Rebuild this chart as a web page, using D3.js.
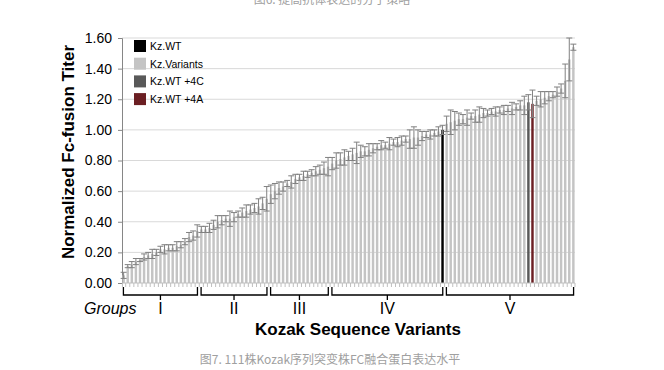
<!DOCTYPE html>
<html>
<head>
<meta charset="utf-8">
<script src="https://cdn.jsdelivr.net/npm/d3@7"></script>
<style>
  body { margin: 0; background: #fff; }
  svg { display: block; font-family: "Liberation Sans", Arial, sans-serif; }
</style>
</head>
<body>
<div id="chart"></div>
<script>
// normalized titer for each of the 111 Kozak variants, sorted
const titers = [
  0.05, 0.11, 0.12, 0.14, 0.15, 0.17, 0.18, 0.19, 0.20, 0.22,
  0.22, 0.23, 0.23, 0.24, 0.25, 0.27, 0.30, 0.31, 0.34, 0.35,
  0.35, 0.36, 0.38, 0.40, 0.41, 0.42, 0.42, 0.43, 0.45, 0.46,
  0.47, 0.48, 0.49, 0.50, 0.52, 0.55, 0.58, 0.60, 0.62, 0.63,
  0.65, 0.66, 0.68, 0.69, 0.70, 0.71, 0.72, 0.73, 0.74, 0.75,
  0.76, 0.78, 0.80, 0.81, 0.82, 0.83, 0.84, 0.85, 0.86, 0.86,
  0.87, 0.88, 0.89, 0.90, 0.90, 0.91, 0.92, 0.92, 0.93, 0.94,
  0.94, 0.95, 0.95, 0.96, 0.97, 0.97, 0.98, 0.99, 1.00, 1.04,
  1.05, 1.06, 1.07, 1.07, 1.08, 1.09, 1.09, 1.10, 1.11, 1.11,
  1.12, 1.12, 1.13, 1.13, 1.14, 1.14, 1.15, 1.16, 1.16, 1.18,
  1.17, 1.19, 1.20, 1.21, 1.22, 1.23, 1.25, 1.27, 1.32, 1.46,
  1.54]
const errors = [
  0.02, 0.01, 0.02, 0.02, 0.01, 0.02, 0.02, 0.03, 0.02, 0.02,
  0.03, 0.02, 0.02, 0.03, 0.02, 0.02, 0.03, 0.03, 0.04, 0.02,
  0.02, 0.03, 0.03, 0.04, 0.03, 0.02, 0.05, 0.03, 0.02, 0.03,
  0.04, 0.03, 0.03, 0.05, 0.04, 0.08, 0.06, 0.05, 0.04, 0.03,
  0.02, 0.04, 0.03, 0.02, 0.03, 0.02, 0.02, 0.03, 0.03, 0.04,
  0.06, 0.04, 0.05, 0.04, 0.05, 0.03, 0.04, 0.07, 0.04, 0.03,
  0.04, 0.03, 0.02, 0.03, 0.02, 0.04, 0.02, 0.03, 0.03, 0.02,
  0.06, 0.07, 0.05, 0.03, 0.02, 0.03, 0.02, 0.03, 0.03, 0.05,
  0.08, 0.06, 0.04, 0.03, 0.05, 0.02, 0.04, 0.05, 0.03, 0.02,
  0.02, 0.03, 0.02, 0.03, 0.02, 0.04, 0.02, 0.03, 0.06, 0.05,
  0.09, 0.03, 0.05, 0.04, 0.03, 0.02, 0.03, 0.03, 0.11, 0.14,
  0.02]
// index of the reference constructs among the variants
const specials = [
  {index: 78, name: "Kz.WT"},
  {index: 99, name: "Kz.WT +4C"},
  {index: 100, name: "Kz.WT +4A"}]
const seriesNames = ["Kz.WT", "Kz.Variants", "Kz.WT +4C", "Kz.WT +4A"]
const seriesColors = ["#000000", "#c4c4c4", "#595959", "#6b1f23"]
const groupNames = ["I", "II", "III", "IV", "V"]
const groupStarts = [0, 19, 36, 51, 79]
const groupEnds = [18, 35, 50, 78, 110]
const yTicks = [0, 0.2, 0.4, 0.6, 0.8, 1.0, 1.2, 1.4, 1.6]

const W = 664, H = 370
const margin = {top: 38, right: 89, bottom: 87, left: 122}
const width = W - margin.left - margin.right,
  height = H - margin.top - margin.bottom

const svg = d3.select("#chart").append("svg")
  .attr("width", W)
  .attr("height", H)

const g = svg.append("g")
  .attr("transform", `translate(${margin.left},${margin.top})`)

const x = d3.scaleBand()
  .domain(d3.range(titers.length))
  .range([0, width])
  .paddingInner(0.4)
  .paddingOuter(0.1)

const y = d3.scaleLinear()
  .domain([0, 1.6])
  .range([height, 0])

const colorOf = i => {
  const s = specials.find(d => d.index === i)
  return s ? seriesColors[seriesNames.indexOf(s.name)] : seriesColors[1]
}

// gridlines
g.append("g")
  .selectAll("line")
  .data(yTicks.filter(d => d > 0))
  .enter().append("line")
  .attr("x1", 0).attr("x2", width)
  .attr("y1", d => y(d)).attr("y2", d => y(d))
  .attr("stroke", "#d9d9d9")
  .attr("stroke-width", 1)

// y axis
const yAxis = d3.axisLeft(y)
  .tickValues(yTicks)
  .tickFormat(d3.format(".2f"))
  .tickSize(4)
  .tickPadding(6)

const ya = g.append("g").call(yAxis)
ya.select(".domain").attr("stroke", "#868686")
ya.selectAll(".tick line").attr("stroke", "#868686")
ya.selectAll("text")
  .attr("font-size", 14)
  .attr("fill", "#000")
  .attr("font-family", "Liberation Sans, Arial, sans-serif")

// bars
g.append("g")
  .selectAll("rect")
  .data(titers)
  .enter().append("rect")
  .attr("x", (d, i) => x(i))
  .attr("width", x.bandwidth())
  .attr("y", d => y(d))
  .attr("height", d => height - y(d))
  .attr("fill", (d, i) => colorOf(i))

// error bars
const eb = g.append("g")
  .attr("stroke", "#808080")
  .attr("stroke-width", 1)
  .selectAll("g")
  .data(titers)
  .enter().append("g")
eb.append("line")
  .attr("x1", (d, i) => x(i) + x.bandwidth() / 2)
  .attr("x2", (d, i) => x(i) + x.bandwidth() / 2)
  .attr("y1", (d, i) => y(d + errors[i]))
  .attr("y2", (d, i) => y(d - errors[i]))
eb.append("line")
  .attr("x1", (d, i) => x(i) + x.bandwidth() / 2 - 3)
  .attr("x2", (d, i) => x(i) + x.bandwidth() / 2 + 3)
  .attr("y1", (d, i) => y(d + errors[i]))
  .attr("y2", (d, i) => y(d + errors[i]))
eb.append("line")
  .attr("x1", (d, i) => x(i) + x.bandwidth() / 2 - 3)
  .attr("x2", (d, i) => x(i) + x.bandwidth() / 2 + 3)
  .attr("y1", (d, i) => y(d - errors[i]))
  .attr("y2", (d, i) => y(d - errors[i]))

// x axis with category tick marks
const step = x.step()
const xa = g.append("g").attr("transform", `translate(0,${height})`)
xa.append("line")
  .attr("x1", 0).attr("x2", width)
  .attr("stroke", "#bfbfbf")
xa.selectAll(".tk")
  .data(d3.range(titers.length + 1))
  .enter().append("line")
  .attr("class", "tk")
  .attr("x1", i => i === titers.length ? width : x(Math.min(i, titers.length - 1)) - step * 0.2 * (i > 0 ? 1 : 0))
  .attr("x2", i => i === titers.length ? width : x(Math.min(i, titers.length - 1)) - step * 0.2 * (i > 0 ? 1 : 0))
  .attr("y1", 0).attr("y2", 4)
  .attr("stroke", "#bfbfbf")

// group brackets
const br = g.append("g")
  .attr("transform", `translate(0,${height})`)
  .attr("stroke", "#000")
  .attr("stroke-width", 1.3)
  .attr("fill", "none")
groupNames.forEach((name, k) => {
  const x0 = x(groupStarts[k]) + 1
  const x1 = x(groupEnds[k]) + x.bandwidth() - 1
  const xm = (x0 + x1) / 2
  br.append("path")
    .attr("d", `M${x0},4 V12 H${x1} V4 M${xm},12 V17`)
  g.append("text")
    .attr("x", xm)
    .attr("y", height + 31)
    .attr("text-anchor", "middle")
    .attr("font-size", 16)
    .attr("fill", "#000")
    .text(name)
})

g.append("text")
  .attr("x", -38)
  .attr("y", height + 31)
  .attr("font-size", 16)
  .attr("font-style", "italic")
  .attr("fill", "#000")
  .text("Groups")

// axis titles
svg.append("text")
  .attr("x", 358)
  .attr("y", 335)
  .attr("text-anchor", "middle")
  .attr("font-size", 17)
  .attr("font-weight", "bold")
  .text("Kozak Sequence Variants")

svg.append("text")
  .attr("transform", "translate(74,152) rotate(-90)")
  .attr("text-anchor", "middle")
  .attr("font-size", 17)
  .attr("font-weight", "bold")
  .text("Normalized Fc-fusion Titer")

// legend
const lg = svg.append("g").attr("transform", "translate(134,40)")
seriesNames.forEach((name, k) => {
  lg.append("rect")
    .attr("x", 0).attr("y", k * 17.7)
    .attr("width", 12).attr("height", 12)
    .attr("fill", seriesColors[k])
  lg.append("text")
    .attr("x", 16).attr("y", k * 17.7 + 10)
    .attr("font-size", 10.5)
    .attr("fill", "#000")
    .text(name)
})

// captions
svg.append("text")
  .attr("x", 332)
  .attr("y", 4)
  .attr("text-anchor", "middle")
  .attr("font-size", 12)
  .attr("font-family", "Noto Sans CJK SC, sans-serif")
  .attr("fill", "#a0a0a0")
  .text("图6. 提高抗体表达的分子策略")

svg.append("text")
  .attr("x", 330)
  .attr("y", 364)
  .attr("text-anchor", "middle")
  .attr("font-size", 12)
  .attr("font-family", "Noto Sans CJK SC, sans-serif")
  .attr("fill", "#a0a0a0")
  .text("图7. 111株Kozak序列突变株FC融合蛋白表达水平")
</script>
</body>
</html>
